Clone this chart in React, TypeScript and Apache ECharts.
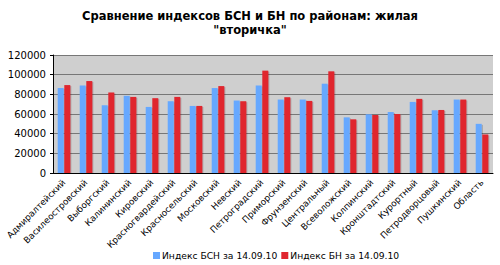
import React, { useEffect, useRef } from "react";
import * as echarts from "echarts";

const categories = [
  "Адмиралтейский", "Василеостровский", "Выборгский", "Калининский", "Кировский",
  "Красногвардейский", "Красносельский", "Московский", "Невский", "Петроградский",
  "Приморский", "Фрунзенский", "Центральный", "Всеволожский", "Колпинский",
  "Кронштадтский", "Курортный", "Петродворцовый", "Пушкинский", "Область",
];
const bsn = [86400, 89000, 68900, 78500, 67200, 73000, 68200, 86400, 73700, 89000, 74700, 74700, 90800, 56600, 59700, 62000, 72300, 63800, 74700, 50000];
const bn = [89400, 93500, 81900, 77400, 76100, 77400, 68200, 88400, 73000, 104100, 77100, 73300, 103400, 54600, 59000, 60000, 75400, 64100, 74700, 39200];
const seriesNames = ["Индекс БСН за 14.09.10", "Индекс БН за 14.09.10"];
const title = 'Сравнение индексов БСН и БН по районам: жилая\n"вторичка"';

export default function App() {
  const ref = useRef<HTMLDivElement>(null);
  useEffect(() => {
    const chart = echarts.init(ref.current!, null, { renderer: "svg" });
    const font = "DejaVu Sans, Verdana, sans-serif";
    chart.setOption({
      animation: false,
      backgroundColor: "#ffffff",
      title: {
        text: title,
        left: "center",
        top: 4,
        textStyle: { fontFamily: font, fontSize: 11.5, fontWeight: "bold", color: "#000", lineHeight: 14 },
      },
      legend: {
        bottom: 0,
        left: 148,
        itemWidth: 7,
        itemHeight: 7,
        itemGap: 4,
        icon: "rect",
        textStyle: { fontFamily: font, fontSize: 9.2, color: "#000", padding: [0, 0, 0, -3] },
        data: seriesNames,
      },
      grid: { left: 53, right: 7, top: 55, bottom: 92 },
      xAxis: {
        type: "category",
        data: categories,
        axisLine: { lineStyle: { color: "#000" } },
        axisTick: { length: 3, lineStyle: { color: "#000" } },
        axisLabel: { rotate: 45, interval: 0, fontFamily: font, fontSize: 8.8, color: "#000", margin: 8 },
      },
      yAxis: {
        type: "value",
        min: 0,
        max: 120000,
        interval: 20000,
        axisLine: { show: true, lineStyle: { color: "#000" } },
        axisTick: { show: true, length: 3, lineStyle: { color: "#000" } },
        axisLabel: { fontFamily: font, fontSize: 10, color: "#000", margin: 7, formatter: (v: number) => String(v) },
        splitLine: { lineStyle: { color: "#777", width: 1 } },
        splitArea: { show: true, areaStyle: { color: ["#cfcfcf", "#cfcfcf"] } },
      },
      series: [
        {
          name: seriesNames[0],
          type: "bar",
          data: bsn,
          barWidth: 6,
          barGap: "10%",
          itemStyle: { color: "#66a8ff", shadowColor: "rgba(0,0,0,0.25)", shadowOffsetX: 1, shadowOffsetY: 1 },
        },
        {
          name: seriesNames[1],
          type: "bar",
          data: bn,
          barWidth: 6,
          itemStyle: { color: "#e0262f", shadowColor: "rgba(0,0,0,0.25)", shadowOffsetX: 1, shadowOffsetY: 1 },
        },
      ],
    });
    return () => chart.dispose();
  }, []);
  return <div ref={ref} style={{ width: 500, height: 265, position: "absolute", left: 0, top: 0 }} />;
}
